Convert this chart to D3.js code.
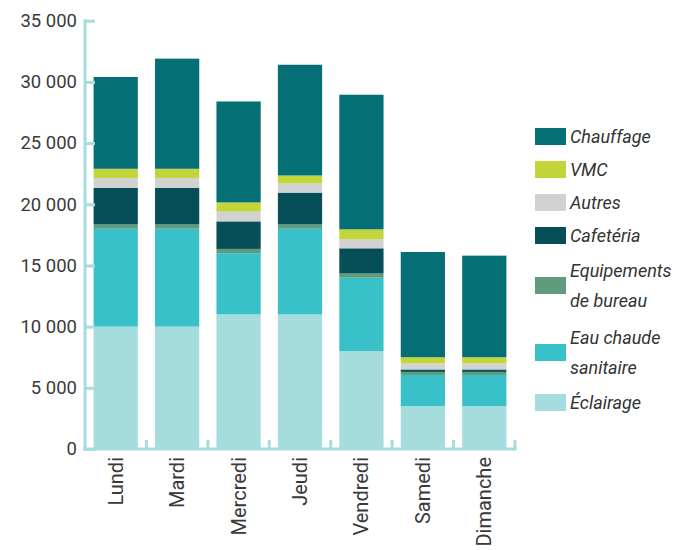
<!DOCTYPE html>
<html lang="fr">
    <head>
        <meta charset="utf-8">
        <title>Consommation par jour</title>
        <script src="https://d3js.org/d3.v7.min.js"></script>
        <style media="screen">
        body { margin: 0; background: #fff; }
        .axis text {
          font-family: Roboto, sans-serif;
          fill: #3a3a3a;
        }
        .legend text {
          font-family: Roboto, sans-serif;
          font-style: italic;
          font-size: 18px;
          fill: #333;
        }
        </style>
    </head>
    <body>
        <script type="text/javascript">
        'use strict'
        // jours de la semaine
        let days = ["Lundi", "Mardi", "Mercredi", "Jeudi", "Vendredi", "Samedi", "Dimanche"]
        // postes, du bas vers le haut
        let keys = ["Éclairage", "Eau chaude sanitaire", "Equipements de bureau", "Cafetéria", "Autres", "VMC", "Chauffage"]
        let eclairage   = [10000, 10000, 11000, 11000, 8000, 3500, 3500]
        let eauChaude   = [8000, 8000, 5000, 7000, 6000, 2550, 2550]
        let equipements = [350, 350, 350, 350, 350, 250, 250]
        let cafeteria   = [3000, 3000, 2250, 2600, 2050, 200, 200]
        let autres      = [800, 800, 800, 750, 750, 500, 500]
        let vmc         = [750, 750, 750, 650, 800, 500, 500]
        let chauffage   = [7500, 9000, 8250, 9050, 11000, 8600, 8300]
        let yTicks = [0, 5000, 10000, 15000, 20000, 25000, 30000, 35000]

        let colors = ["#a5dcdd", "#38c1c9", "#5f9b7d", "#064e58", "#d1d3d3", "#c2d53a", "#056f76"]
        // légende, de haut en bas, avec retours à la ligne
        let legendKeys = ["Chauffage", "VMC", "Autres", "Cafetéria", "Equipements de bureau", "Eau chaude sanitaire", "Éclairage"]
        let legendLines = [
          ["Chauffage"], ["VMC"], ["Autres"], ["Cafetéria"],
          ["Equipements", "de bureau"], ["Eau chaude", "sanitaire"], ["Éclairage"]
        ]

        let series = [eclairage, eauChaude, equipements, cafeteria, autres, vmc, chauffage]
        let table = days.map((d, i) => {
          let row = { day: d }
          keys.forEach((k, j) => row[k] = series[j][i])
          return row
        })

        let w = 679
        let h = 550
        let x0 = 85
        let x1 = 515
        let yBottom = 449
        let yTop = 20.7

        let xScale = d3.scaleBand()
          .domain(days)
          .range([x0, x1])
          .paddingInner(0.28)
          .paddingOuter(0.14)
        let yScale = d3.scaleLinear()
          .domain([0, 35000])
          .range([yBottom, yTop])
        let color = d3.scaleOrdinal().domain(keys).range(colors)

        let fmt = d3.formatLocale({ decimal: ",", thousands: " ", grouping: [3], currency: ["", "€"] }).format(",d")

        let svg = d3.select("body")
          .append("svg")
          .attr("width", w)
          .attr("height", h)

        let stacked = d3.stack().keys(keys)(table)

        svg.append("g")
          .selectAll("g")
          .data(stacked)
          .join("g")
          .attr("fill", (d) => color(d.key))
          .selectAll("rect")
          .data((d) => d)
          .join("rect")
          .attr("x", (d) => xScale(d.data.day))
          .attr("y", (d) => yScale(d[1]))
          .attr("width", xScale.bandwidth())
          .attr("height", (d) => yScale(d[0]) - yScale(d[1]))

        let axisColor = "#a6dcdd"

        // axe vertical
        let yAxis = svg.append("g")
          .attr("class", "axis")
          .attr("transform", "translate(" + x0 + ",0)")
          .call(d3.axisLeft(yScale).tickValues(yTicks).tickSize(-10).tickPadding(8).tickFormat(fmt))
        yAxis.select(".domain").remove()
        yAxis.selectAll("line").attr("stroke", axisColor).attr("stroke-width", 3)
        yAxis.selectAll("text").attr("font-size", "18.5px")
        yAxis.append("line")
          .attr("x1", 0).attr("x2", 0)
          .attr("y1", yTop - 1.5).attr("y2", yBottom + 1.5)
          .attr("stroke", axisColor).attr("stroke-width", 3)

        // axe horizontal
        let step = xScale.step()
        let bounds = days.map((d, i) => x0 + (i + 1) * step)
        let xAxis = svg.append("g")
          .attr("class", "axis")
          .attr("transform", "translate(0," + yBottom + ")")
        xAxis.append("line")
          .attr("x1", x0 - 1.5).attr("x2", x1 + 1.5)
          .attr("y1", 0).attr("y2", 0)
          .attr("stroke", axisColor).attr("stroke-width", 3)
        xAxis.selectAll(".tick")
          .data(bounds)
          .join("line")
          .attr("class", "tick")
          .attr("x1", (d) => d).attr("x2", (d) => d)
          .attr("y1", 0).attr("y2", -9)
          .attr("stroke", axisColor).attr("stroke-width", 3)
        xAxis.selectAll(".lbl")
          .data(days)
          .join("text")
          .attr("class", "lbl")
          .attr("transform", (d) => "translate(" + (xScale(d) + xScale.bandwidth() / 2) + ",8) rotate(-90)")
          .attr("text-anchor", "end")
          .attr("dy", "0.35em")
          .attr("font-size", "20px")
          .text((d) => d)

        // légende
        let legend = svg.append("g").attr("class", "legend")
        let cursor = 120
        legendLines.forEach((lines, i) => {
          let hh = lines.length > 1 ? 67 : 33
          let cy = cursor + hh / 2
          legend.append("rect")
            .attr("x", 535)
            .attr("y", cy - 8.5)
            .attr("width", 31)
            .attr("height", 17)
            .attr("fill", color(legendKeys[i]))
          legend.append("text")
            .attr("y", cy - (lines.length - 1) * 15)
            .selectAll("tspan")
            .data(lines)
            .join("tspan")
            .attr("x", 570)
            .attr("dy", (d, j) => j === 0 ? "0.35em" : "30px")
            .text((d) => d)
          cursor += hh
        })
        </script>
    </body>
</html>
